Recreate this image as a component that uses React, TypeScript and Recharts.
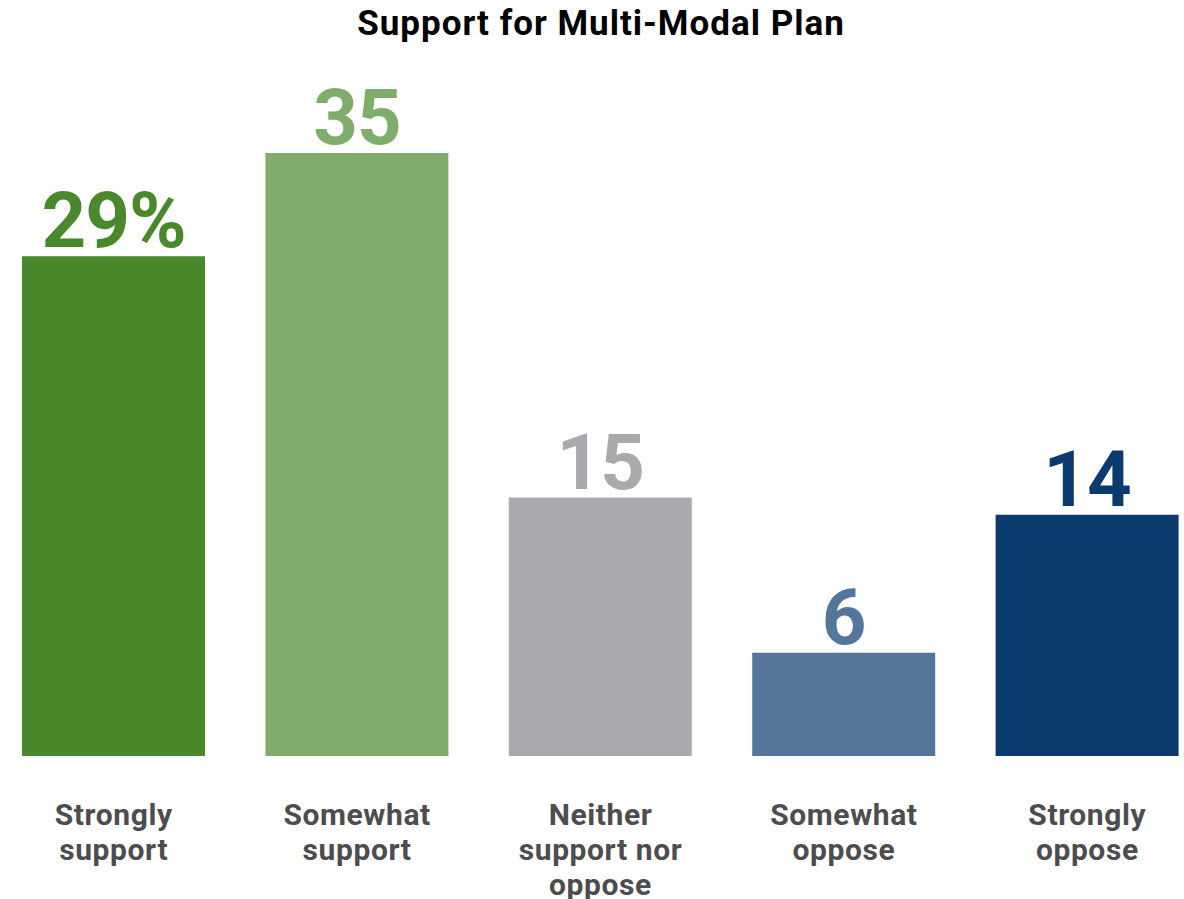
import React from "react";
import { BarChart, Bar, XAxis, YAxis, Cell, LabelList } from "recharts";

const categories = [
  ["Strongly", "support"],
  ["Somewhat", "support"],
  ["Neither", "support nor", "oppose"],
  ["Somewhat", "oppose"],
  ["Strongly", "oppose"],
];
const values = [29, 35, 15, 6, 14];
const valueLabels = ["29%", "35", "15", "6", "14"];
const colors = ["#4a882c", "#80ac6c", "#aaaaae", "#53769a", "#0b3b6e"];

const FONT = "Roboto, 'Noto Sans', sans-serif";

const data = categories.map((lines, i) => ({
  key: `c${i}`,
  value: values[i],
}));

const CategoryTick = (props: any) => {
  const { x, y, index } = props;
  const lines = categories[index] || [];
  return (
    <text
      x={x}
      y={y}
      textAnchor="middle"
      fill="#4d4d4f"
      fontFamily={FONT}
      fontWeight={700}
      fontSize={30}
      letterSpacing={0.6}
    >
      {lines.map((l, i) => (
        <tspan key={i} x={x} dy={i === 0 ? 69 : 35}>
          {l}
        </tspan>
      ))}
    </text>
  );
};

const ValueLabel = (props: any) => {
  const { x, y, width, index } = props;
  return (
    <text
      x={x + width / 2}
      y={y - 9}
      textAnchor="middle"
      fill={colors[index]}
      fontFamily={FONT}
      fontWeight={700}
      fontSize={78}
      letterSpacing={-1}
    >
      {valueLabels[index]}
    </text>
  );
};

export default function App() {
  return (
    <div
      style={{
        position: "absolute",
        left: 0,
        top: 0,
        width: 1184,
        height: 899,
        overflow: "hidden",
        background: "#fff",
      }}
    >
      <div
        style={{
          position: "absolute",
          left: 0,
          width: 1202,
          top: 4,
          textAlign: "center",
          fontFamily: FONT,
          fontWeight: 700,
          fontSize: 35,
          letterSpacing: 1,
          color: "#000",
          lineHeight: "40px",
        }}
      >
        Support for Multi-Modal Plan
      </div>
      <BarChart
        width={1184}
        height={899}
        data={data}
        margin={{ top: 153, right: -25, left: -8, bottom: 0 }}
        barSize={183}
      >
        <XAxis
          dataKey="key"
          axisLine={false}
          tickLine={false}
          tickSize={0}
          tickMargin={0}
          height={143}
          interval={0}
          tick={<CategoryTick />}
        />
        <YAxis hide domain={[0, 35]} />
        <Bar dataKey="value" isAnimationActive={false}>
          {data.map((d, i) => (
            <Cell key={d.key} fill={colors[i]} />
          ))}
          <LabelList dataKey="value" content={<ValueLabel />} />
        </Bar>
      </BarChart>
    </div>
  );
}
